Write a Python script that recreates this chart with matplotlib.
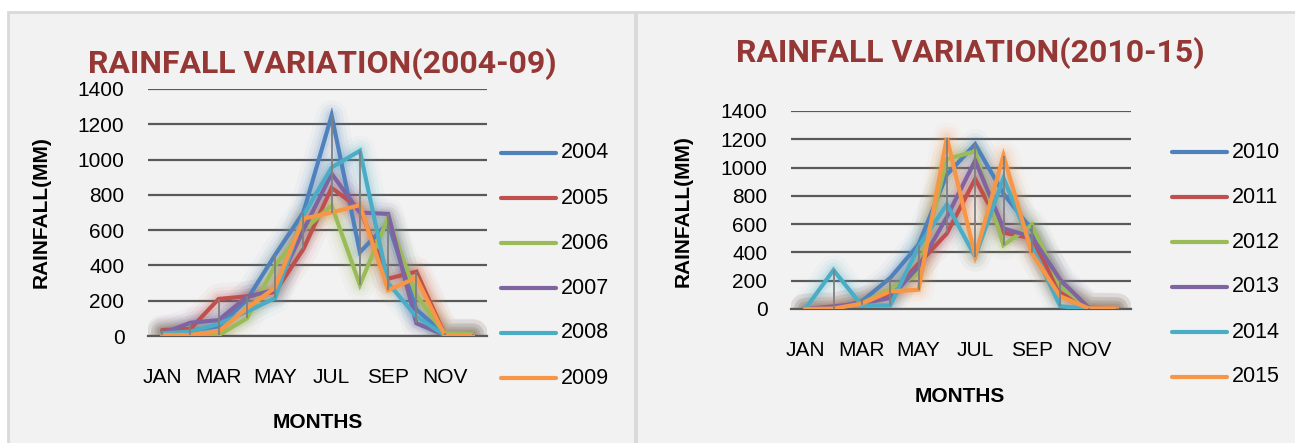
import numpy as np
import matplotlib
matplotlib.use("Agg")
import matplotlib.pyplot as plt
from matplotlib.lines import Line2D
from matplotlib.patches import Rectangle
from matplotlib import font_manager

# ---------------- data ----------------
months = ["JAN", "FEB", "MAR", "APR", "MAY", "JUN", "JUL", "AUG", "SEP", "OCT", "NOV", "DEC"]
shown_months = ["JAN", "MAR", "MAY", "JUL", "SEP", "NOV"]

years_a = ["2004", "2005", "2006", "2007", "2008", "2009"]
r2004 = [25, 30, 55, 205, 460, 700, 1250, 475, 640, 150, 10, 10]
r2005 = [34, 40, 210, 225, 250, 493, 840, 720, 325, 365, 10, 10]
r2006 = [15, 15, 5, 100, 400, 600, 740, 290, 670, 230, 15, 10]
r2007 = [15, 75, 90, 222, 262, 600, 920, 700, 692, 72, 5, 5]
r2008 = [15, 25, 68, 138, 215, 685, 955, 1050, 300, 110, 5, 5]
r2009 = [6, 6, 25, 157, 275, 665, 700, 742, 260, 330, 5, 5]

years_b = ["2010", "2011", "2012", "2013", "2014", "2015"]
r2010 = [0, 5, 55, 219, 455, 950, 1165, 815, 560, 180, 5, 0]
r2011 = [0, 5, 47, 100, 320, 534, 920, 540, 500, 115, 5, 5]
r2012 = [0, 10, 40, 140, 250, 1060, 1115, 452, 595, 160, 10, 5]
r2013 = [0, 19, 40, 78, 300, 650, 1050, 570, 510, 207, 10, 5]
r2014 = [0, 275, 25, 25, 440, 740, 370, 925, 440, 20, 0, 0]
r2015 = [0, 3, 38, 125, 136, 1210, 375, 1085, 393, 90, 5, 5]

series_a = [r2004, r2005, r2006, r2007, r2008, r2009]
series_b = [r2010, r2011, r2012, r2013, r2014, r2015]

colors = ["#4F81BD", "#C0504D", "#9BBB59", "#8064A2", "#4BACC6", "#F79646"]
title_color = "#953735"

# ---------------- fonts ----------------
avail = {f.name for f in font_manager.fontManager.ttflist}
if "Liberation Sans Narrow" in avail:
    title_font = ["Liberation Sans Narrow", "DejaVu Sans"]
    title_size = 27
else:
    title_font = ["Roboto", "DejaVu Sans"]
    title_size = 23
body_font = ["Liberation Sans", "DejaVu Sans"]
plt.rcParams["font.family"] = body_font

W, H = 1295, 443
fig = plt.figure(figsize=(W / 100, H / 100), dpi=100)
fig.patch.set_facecolor("white")


def fx(x):
    return x / W


def fy(y):
    return 1 - y / H


# panels
fig.add_artist(Rectangle((fx(8), fy(H + 5)), fx(635) - fx(8), fy(12) - fy(H + 5),
                         transform=fig.transFigure, facecolor="#F2F2F2",
                         edgecolor="#D9D9D9", lw=2, zorder=0))
fig.add_artist(Rectangle((fx(636), fy(H + 5)), fx(W + 5) - fx(636), fy(12) - fy(H + 5),
                         transform=fig.transFigure, facecolor="#F2F2F2",
                         edgecolor="#D9D9D9", lw=2, zorder=0))


def draw_panel(box, series, names, title, title_xy, ylab_xy, xlab_xy, leg_x, leg_y0):
    l, t, r, b = box
    ax = fig.add_axes([fx(l), fy(b), fx(r) - fx(l), fy(t) - fy(b)])
    ax.set_facecolor("none")
    x = np.arange(len(months))
    # glow
    for s, c in zip(series, colors):
        for lw, a in [(22, 0.04), (16, 0.06), (11, 0.08), (7, 0.12)]:
            ax.plot(x, s, color=c, lw=lw, alpha=a, solid_capstyle="round",
                    solid_joinstyle="round", zorder=2)
    for s, c in zip(series, colors):
        ax.plot(x, s, color=c, lw=3.0, solid_capstyle="round",
                solid_joinstyle="miter", zorder=3)
    arr = np.array(series)
    ax.vlines(x, arr.min(axis=0), arr.max(axis=0), color="#808080", lw=1.3, zorder=4)

    ax.set_xlim(-0.5, len(months) - 0.5)
    ax.set_ylim(0, 1400)
    ax.set_yticks(np.arange(0, 1401, 200))
    ax.set_xticks([months.index(m) for m in shown_months])
    ax.set_xticklabels(shown_months)
    ax.tick_params(axis="both", length=0, labelsize=15, colors="black")
    ax.tick_params(axis="x", pad=23)
    ax.tick_params(axis="y", pad=17)
    ax.yaxis.grid(True, color="#595959", lw=1.6)
    ax.set_axisbelow(True)
    for sp in ["top", "right", "left"]:
        ax.spines[sp].set_visible(False)
    ax.spines["bottom"].set_color("#595959")
    ax.spines["bottom"].set_linewidth(1.6)

    fig.text(fx(title_xy[0]), fy(title_xy[1]), title, family=title_font,
             weight="bold", size=title_size, color=title_color,
             ha="center", va="center")
    fig.text(fx(ylab_xy[0]), fy(ylab_xy[1]), "RAINFALL(MM)", rotation=90,
             weight="bold", size=15, ha="center", va="center")
    fig.text(fx(xlab_xy[0]), fy(xlab_xy[1]), "MONTHS",
             weight="bold", size=15, ha="center", va="center")
    # legend
    for i, (nm, c) in enumerate(zip(names, colors)):
        yy = leg_y0 + i * 45
        fig.add_artist(Line2D([fx(leg_x), fx(leg_x + 55)], [fy(yy), fy(yy)],
                              transform=fig.transFigure, color=c, lw=3.0,
                              solid_capstyle="round"))
        fig.text(fx(leg_x + 60), fy(yy), nm, size=15.5, ha="left", va="center")
    return ax


draw_panel((148, 89, 487, 336), series_a, years_a, "RAINFALL VARIATION(2004-09)",
           (322, 64), (41, 212), (318, 422), 501, 153)
draw_panel((791, 111, 1131, 309), series_b, years_b, "RAINFALL VARIATION(2010-15)",
           (970, 53), (683, 211), (960, 397), 1172, 152)

fig.savefig("out.png", dpi=100, facecolor=fig.get_facecolor())
